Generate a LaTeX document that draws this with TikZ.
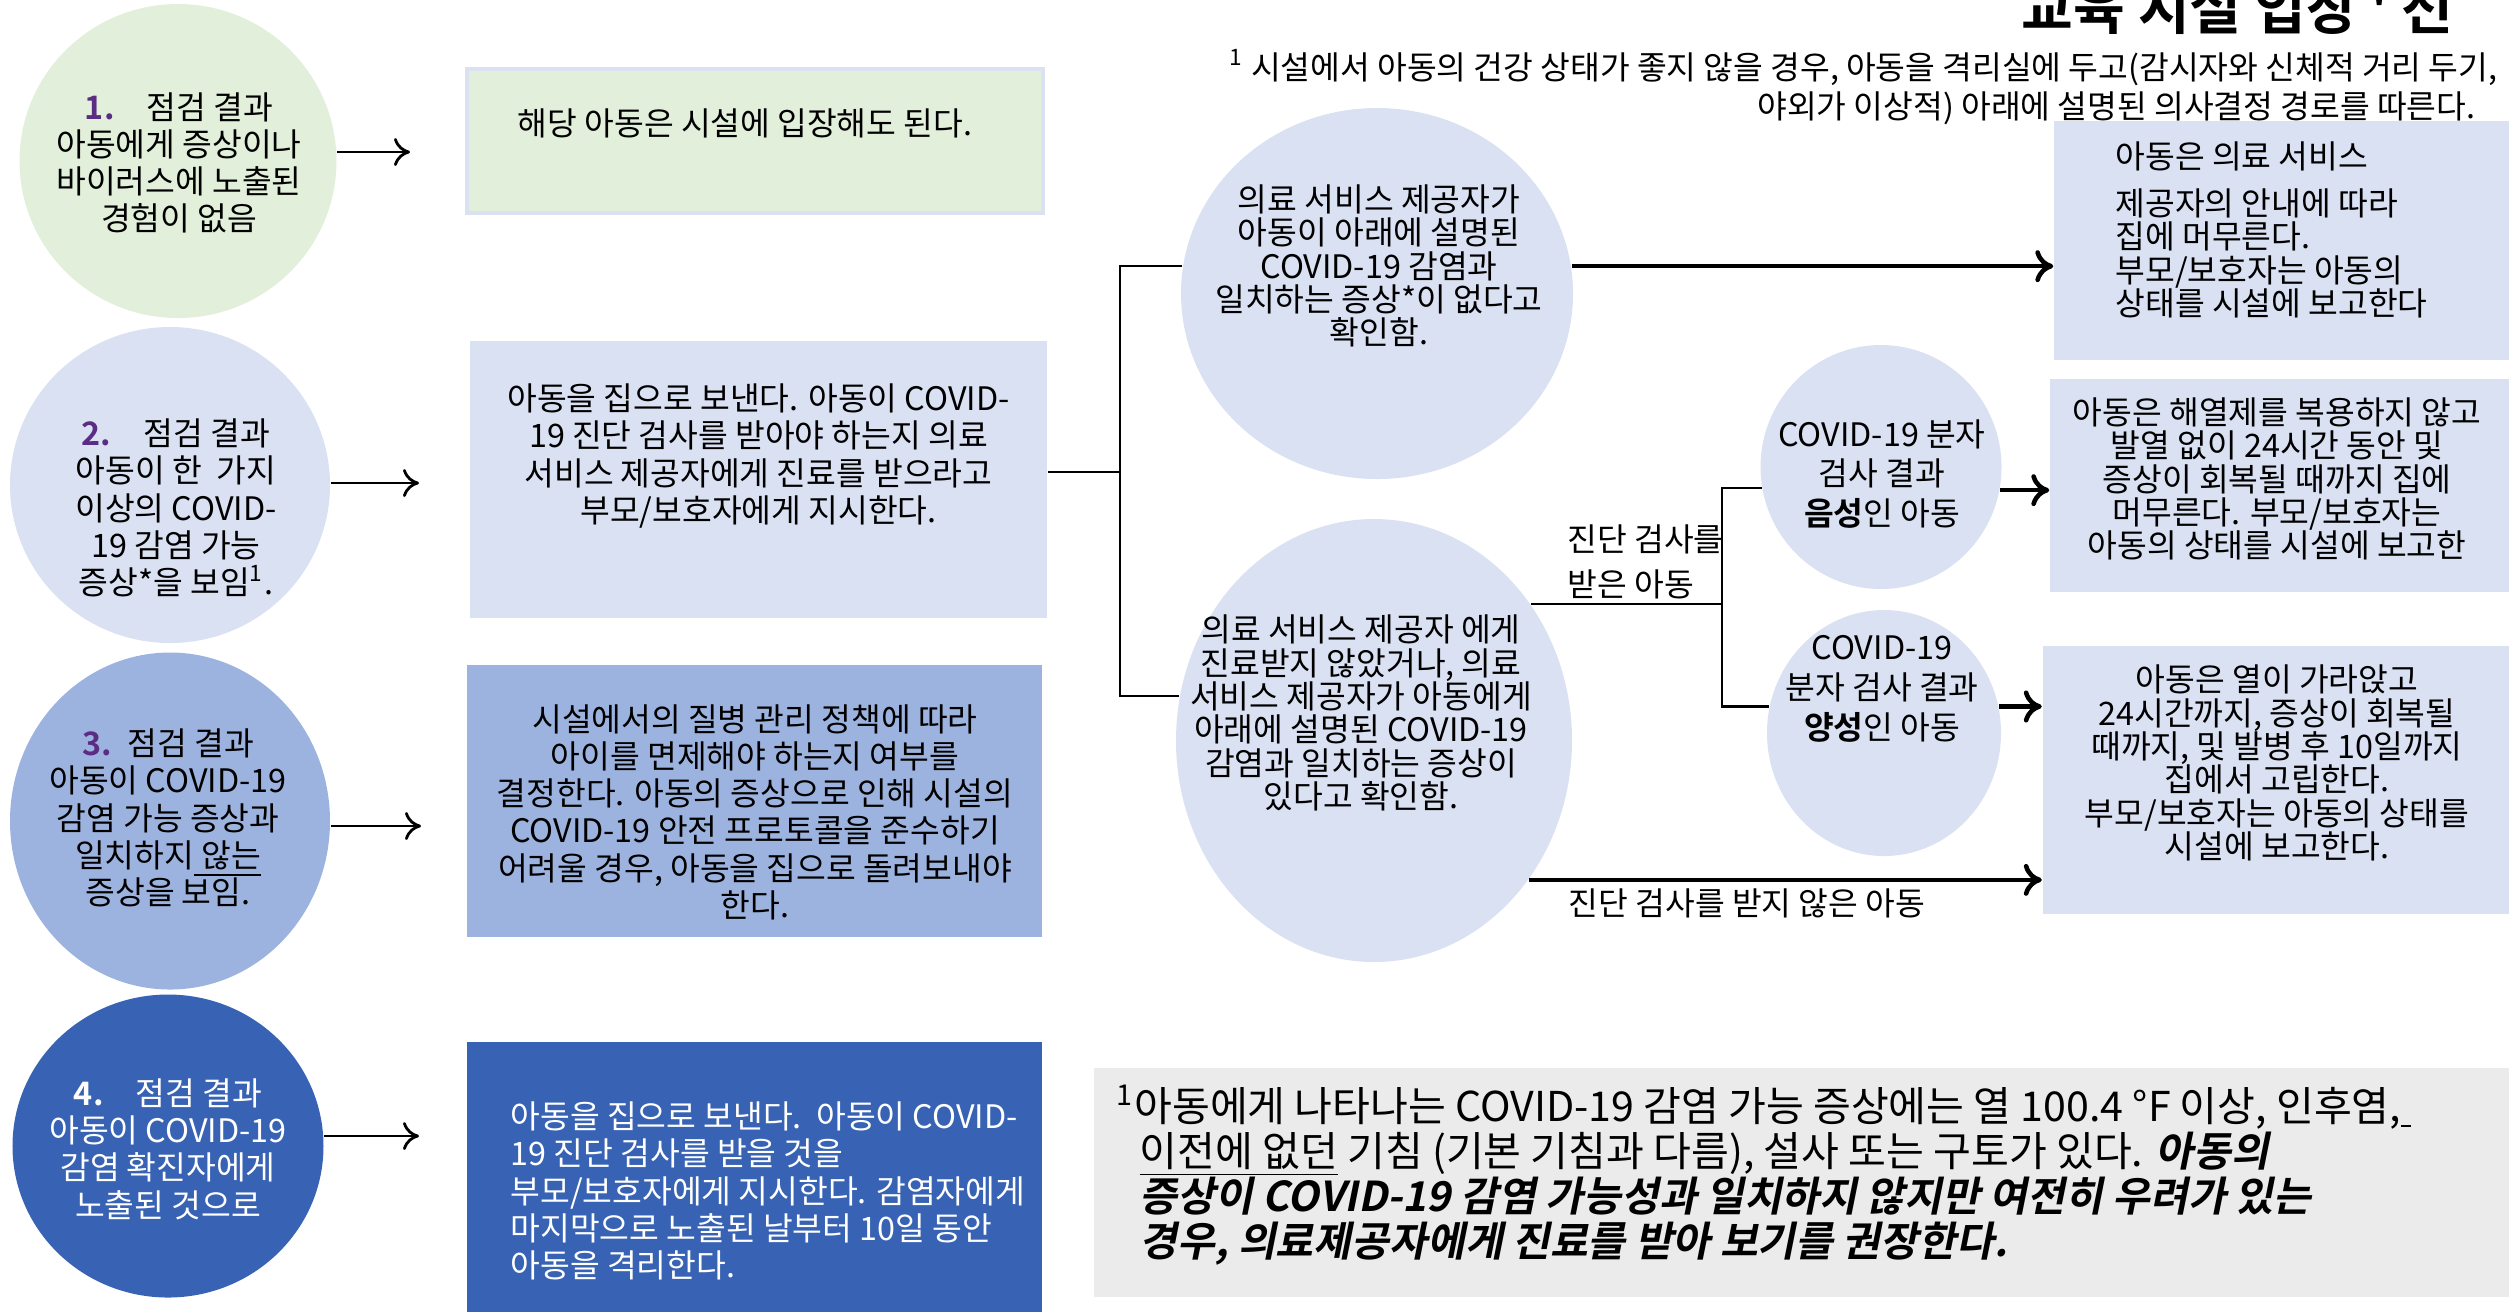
\documentclass[tikz,border=0pt]{standalone}
\usepackage{fontspec}
\setmainfont{Noto Sans CJK KR}[BoldFont={Noto Sans CJK KR Bold}]
\newfontfamily\fnbi{Noto Sans CJK KR Bold}[FakeSlant=0.2]
\usepackage{tikz}
\usetikzlibrary{arrows.meta, positioning, shapes.geometric}
\definecolor{greenlight}{RGB}{226, 239, 218}
\definecolor{bluelight}{RGB}{218, 225, 242}
\definecolor{bluemid}{RGB}{157, 179, 223}
\definecolor{bluedark}{RGB}{56, 99, 180}
\definecolor{numpurple}{RGB}{91, 44, 131}
\definecolor{notegray}{RGB}{235, 235, 235}
\setlength{\lineskiplimit}{-5pt}

\begin{document}
\begin{tikzpicture}[
    circ/.style={ellipse, inner sep=0pt},
    box/.style={rectangle, inner sep=0pt},
    txt/.style={inner sep=0pt, align=center, font=\fontsize{9.2}{10.6}\selectfont},
    txtm/.style={inner sep=0pt, align=center, font=\fontsize{9.2}{9.5}\selectfont},
    arrow/.style={-{To[length=1.6mm, width=2.8mm]}, line width=0.8pt},
    bigarrow/.style={-{To[length=1.8mm, width=3.2mm]}, line width=1.3pt},
    tree/.style={line width=0.6pt},
]
\useasboundingbox (0,0) rectangle (25.09,-13.12);

% Title and top note
\node[anchor=base east, inner sep=0pt, font=\fontsize{16}{19}\selectfont\bfseries] (title) at (24.54,-0.29) {교육 시설 입장 \textquotesingle\ 선};
\node[txt, anchor=east, align=right, font=\fontsize{9.2}{11.3}\selectfont] (topnote) at (24.98,-0.875)
    {\textsuperscript{1} 시설에서 아동의 건강 상태가 좋지 않을 경우, 아동을 격리실에 두고(감시자와 신체적 거리 두기,\\야외가 이상적) 아래에 설명된 의사결정 경로를 따른다.\hspace*{0.22cm}};

% Screening results (left column)
\node[circ, fill=greenlight, minimum width=3.17cm, minimum height=3.14cm] (c1) at (1.78,-1.61) {};
\node[txt] (c1txt) at (1.79,-1.63) {{\color{numpurple}\bfseries 1.}\hspace{1em}점검 결과\\아동에게 증상이나\\바이러스에 노출된\\경험이 없음};

\node[circ, fill=bluelight, minimum width=3.20cm, minimum height=3.16cm] (c2) at (1.70,-4.85) {};
\node[txt] (c2txt) at (1.76,-5.08) {{\color{numpurple}\bfseries 2.}\hspace{1em}점검 결과\\아동이 한\ \ 가지\\이상의 COVID-\\19 감염 가능\\증상*을 보임\textsuperscript{1}.};

\node[circ, fill=bluemid, minimum width=3.20cm, minimum height=3.37cm] (c3) at (1.70,-8.21) {};
\node[txt] (c3txt) at (1.68,-8.18) {{\color{numpurple}\bfseries 3.}\hspace{0.5em}점검 결과\\아동이 COVID-19\\감염 가능 증상과\\일치하지\underline{\ 않는}\\증상을 보임.};

\node[circ, fill=bluedark, minimum width=3.11cm, minimum height=3.03cm] (c4) at (1.68,-11.46) {};
\node[txt, text=white] (c4txt) at (1.68,-11.49) {{\bfseries 4.}\hspace{1em}점검 결과\\아동이 COVID-19\\감염 확진자에게\\노출된 것으로};

% Actions
\node[box, fill=greenlight, draw=bluelight, line width=1.1pt, minimum width=5.76cm, minimum height=1.44cm] (b1) at (7.55,-1.41) {};
\node[txt] (b1txt) at (7.45,-1.23) {해당 아동은 시설에 입장해도 된다.};

\node[box, fill=bluelight, minimum width=5.77cm, minimum height=2.77cm] (b2) at (7.585,-4.795) {};
\node[txt] (b2txt) at (7.585,-4.56) {아동을 집으로 보낸다. 아동이 COVID-\\19 진단 검사를 받아야 하는지 의료\\서비스 제공자에게 진료를 받으라고\\부모/보호자에게 지시한다.};

\node[box, fill=bluemid, minimum width=5.75cm, minimum height=2.72cm] (b3) at (7.545,-8.01) {};
\node[txt] (b3txt) at (7.55,-8.12) {시설에서의 질병 관리 정책에 따라\\아이를 면제해야 하는지 여부를\\결정한다. 아동의 증상으로 인해 시설의\\COVID-19 안전 프로토콜을 준수하기\\어려울 경우, 아동을 집으로 돌려보내야\\한다.};

\node[box, fill=bluedark, minimum width=5.75cm, minimum height=2.70cm] (b4) at (7.545,-11.77) {};
\node[txt, text=white, align=left, anchor=west] (b4txt) at (5.10,-11.91) {아동을 집으로 보낸다.\ \ 아동이 COVID-\\19 진단 검사를 받을 것을\\부모/보호자에게 지시한다. 감염자에게\\마지막으로 노출된 날부터 10일 동안\\아동을 격리한다.};

% Arrows to actions
\coordinate (a1) at (4.10,-1.52);
\coordinate (a2) at (4.19,-4.83);
\coordinate (a3) at (4.21,-8.26);
\coordinate (a4) at (4.19,-11.36);
\draw[arrow] (c1.east |- a1) -- (a1);
\draw[arrow] (c2.east |- a2) -- (a2);
\draw[arrow] (c3.east |- a3) -- (a3);
\draw[arrow] (c4.east |- a4) -- (a4);

% Provider decision
\node[circ, fill=bluelight, minimum width=3.92cm, minimum height=3.71cm] (m1) at (13.77,-2.935) {};
\node[txtm] (m1txt) at (13.79,-2.66) {의료 서비스 제공자가\\아동이 아래에 설명된\\COVID-19 감염과\\일치하는 증상*이 없다고\\확인함.};

\node[circ, fill=bluelight, minimum width=3.96cm, minimum height=4.43cm] (m2) at (13.74,-7.405) {};
\node[txtm] (m2txt) at (13.61,-7.13) {의료 서비스 제공자 에게\\진료받지 않았거나, 의료\\서비스 제공자가 아동에게\\아래에 설명된 COVID-19\\감염과 일치하는 증상이\\있다고 확인함.};

% Test results
\node[circ, fill=bluelight, minimum width=2.41cm, minimum height=2.44cm] (c5) at (18.81,-4.67) {};
\node[txt, font=\fontsize{9.2}{11.3}\selectfont] (c5txt) at (18.82,-4.74) {COVID-19 분자\\검사 결과\\\textbf{음성}인 아동};

\node[circ, fill=bluelight, minimum width=2.34cm, minimum height=2.46cm] (c6) at (18.84,-7.33) {};
\node[txt, font=\fontsize{9.2}{11.3}\selectfont] (c6txt) at (18.82,-6.89) {COVID-19\\분자 검사 결과\\\textbf{양성}인 아동};

% Outcomes
\node[box, fill=bluelight, minimum width=4.55cm, minimum height=2.39cm] (r1) at (22.815,-2.405) {};
\node[txtm, align=left, anchor=west] (r1txt) at (21.15,-2.30) {아동은 의료 서비스\\[0.13cm]제공자의 안내에 따라\\집에 머무른다.\\부모/보호자는 아동의\\상태를 시설에 보고한다};

\node[box, fill=bluelight, minimum width=4.59cm, minimum height=2.13cm] (r2) at (22.795,-4.855) {};
\node[txtm] (r2txt) at (22.77,-4.79) {아동은 해열제를 복용하지 않고\\발열 없이 24시간 동안 및\\증상이 회복될 때까지 집에\\머무른다. 부모/보호자는\\아동의 상태를 시설에 보고한};

\node[box, fill=bluelight, minimum width=4.66cm, minimum height=2.68cm] (r3) at (22.755,-7.80) {};
\node[txtm] (r3txt) at (22.77,-7.63) {아동은 열이 가라앉고\\24시간까지, 증상이 회복될\\때까지, 및 발병 후 10일까지\\집에서 고립한다.\\부모/보호자는 아동의 상태를\\시설에 보고한다.};

% Branch lines
\coordinate (j1) at (11.20,-4.72);
\coordinate (fork) at (17.22,-6.05);
\draw[tree] (b2.east |- j1) -- (j1);
\draw[tree] (m1.172) -| (j1) |- (m2.167);
\draw[tree] (m2.41) -- (m2.41 -| fork);
\draw[tree] (c5.190) -| (fork) |- (c6.167);

\draw[bigarrow] (m1.8) -- (m1.8 -| r1.west);
\draw[bigarrow] (c5.-11) -- (c5.-11 -| r2.west);
\draw[bigarrow] (c6.13) -- (c6.13 -| r3.west);
\draw[bigarrow] (m2.-42) -- (m2.-42 -| r3.west);

\node[txt, align=left, anchor=west, font=\fontsize{9.2}{13}\selectfont] (tested) at (15.67,-5.62) {진단 검사를\\받은 아동};
\node[txt] (untested) at (17.47,-9.03) {진단 검사를 받지 않은 아동};

% Footnote
\node[box, fill=notegray, minimum width=14.15cm, minimum height=2.29cm] (fnbox) at (18.015,-11.825) {};
\node[inner sep=0pt, align=left, anchor=west, font=\fontsize{11.7}{12.8}\selectfont] (fntxt) at (11.16,-11.75)
    {\textsuperscript{1}아동에게 나타나는 COVID-19 감염 가능 증상에는 열 100.4 °F 이상, 인후염,\underline{\hspace{0.1cm}}\\
     \hspace*{0.23cm}\underline{이전에 없던} 기침 (기본 기침과 다름), 설사 또는 구토가 있다. {\fnbi 아동의}\\
     \hspace*{0.23cm}{\fnbi 증상이 COVID-19 감염 가능성과 일치하지 않지만 여전히 우려가 있는}\\
     \hspace*{0.23cm}{\fnbi 경우, 의료제공자에게 진료를 받아 보기를 권장한다.}};
\end{tikzpicture}
\end{document}
